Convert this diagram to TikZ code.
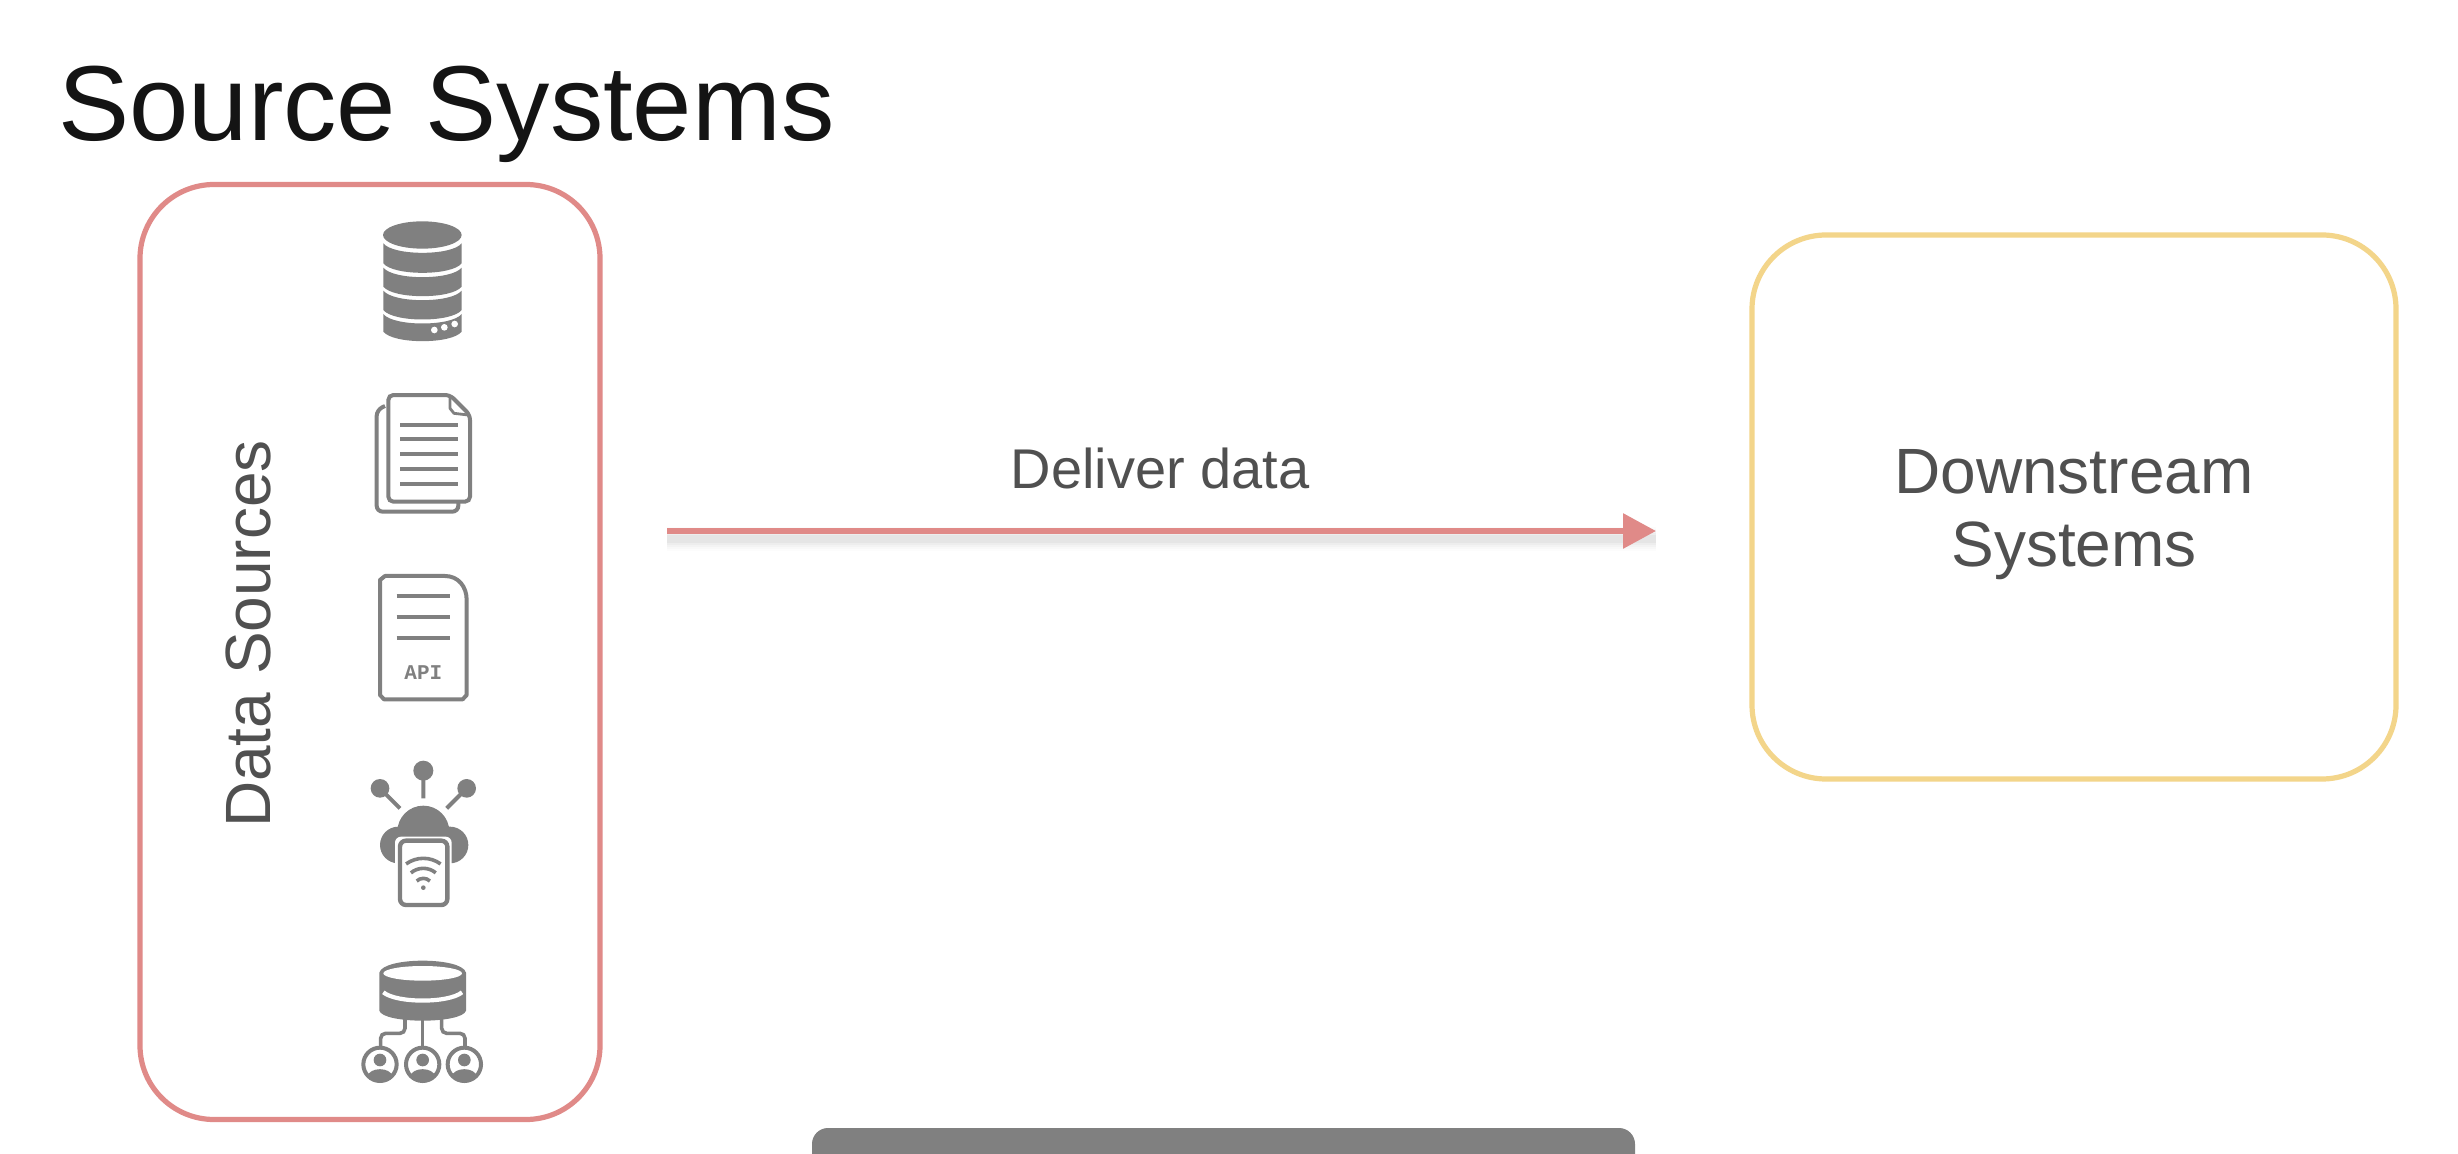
\documentclass[tikz,border=0pt]{standalone}
\usepackage{fontspec}
\setmainfont{Liberation Sans}
\newfontfamily\apifont{Liberation Mono}
\usetikzlibrary{arrows.meta}
\definecolor{iconG}{HTML}{808080}
\definecolor{redB}{HTML}{E08A88}
\definecolor{yelB}{HTML}{F3D58A}
\definecolor{txtG}{HTML}{505050}
\tikzset{
  panel/.style={draw=#1,line width=2.6pt,rounded corners=37pt,fill=none,minimum width=0pt,inner sep=0pt},
  label/.style={text=txtG,inner sep=0pt},
  icon/.style={x=0.16667pt,y=-0.16667pt},
  iconline/.style={draw=iconG,line width=2pt},
  flow/.style={draw=redB,line width=3pt,-{Triangle[length=16.5pt,width=17pt,fill=redB]}},
}
\begin{document}
\begin{tikzpicture}[x=0.5pt,y=-0.5pt]
\useasboundingbox (0,0) rectangle (2458,1154);
\fill[white] (0,0) rectangle (2458,1154);
% title
\node[anchor=base west,inner sep=0pt,text=black!92] (title) at (58,141) {\fontsize{53.3}{60}\selectfont Source Systems};
% panels
\node[panel=redB,minimum width=230pt,minimum height=467.5pt] (src) at (370,652) {};
\node[panel=yelB,minimum width=322pt,minimum height=272pt] (dst) at (2074,507) {};
\node[label,rotate=90] (dsl) at (248,634) {\fontsize{32}{36}\selectfont Data Sources};
\node[label,anchor=base] (dsy1) at (2074,494) {\fontsize{32}{36}\selectfont Downstream};
\node[label,anchor=base] (dsy2) at (2074,567) {\fontsize{32}{36}\selectfont Systems};
\node[label,anchor=base] (dl) at (1160,489) {\fontsize{28}{32}\selectfont Deliver data};
% arrow
\coordinate (a0) at (667,531);
\coordinate (a1) at (1656,531);
\foreach \w/\o in {12/.012,10/.015,8/.02,6/.025,4/.03}{
  \draw[black,opacity=\o,line width=\w pt] ([yshift=-4pt]a0) -- ([yshift=-4pt]a1);
}
\draw[flow] (a0) -- (a1);
% database icon
\begin{scope}[icon,xshift=165pt,yshift=-100pt]
\fill[iconG] (277,105) ellipse (118 and 41);
\foreach \t/\b in {130/190,203/260,272/330,342/395}{
  \fill[iconG] (160,\t) .. controls (190,\t+38) and (365,\t+38) .. (395,\t) -- (395,\b)
     .. controls (365,\b+38) and (190,\b+38) .. (160,\b) -- cycle;
}
\fill[white] (313,390) circle (10) (343,382) circle (10) (374,372) circle (10);
% documents
\draw[iconline,rounded corners=3pt] (165,618) -- (140,630) -- (140,935) -- (385,935) -- (385,908);
\draw[iconline,rounded corners=2.5pt,fill=white] (175,585) -- (360,585) -- (420,645) -- (420,905) -- (175,905) -- cycle;
\draw[iconline,line width=1.4pt,line join=round] (360,590) -- (360,625) -- (372,640) -- (415,645);
\foreach \y in {675,718,763,808,853}{
  \draw[iconG,line width=2pt] (210,\y) -- (385,\y);
}
\end{scope}
% API icon
\begin{scope}[icon,xshift=165pt,yshift=-275pt]
\draw[iconline,line join=round] (165,78) -- (345,78) .. controls (385,78) and (410,110) .. (410,150) -- (410,435) -- (398,448) -- (162,448) -- (150,435) -- (150,90) -- cycle;
\foreach \y in {137,200,264}{
  \draw[iconG,line width=2pt] (200,\y) -- (360,\y);
}
\node[text=iconG,inner sep=0pt] (apil) at (280,368) {\apifont\bfseries\fontsize{10.5}{12}\selectfont API};
\end{scope}
% cloud icon
\begin{scope}[icon,xshift=165pt,yshift=-375pt]
\fill[iconG] (280,62) circle (30) (150,115) circle (28) (410,115) circle (28);
\draw[iconG,line width=2pt] (280,62) -- (280,145) (150,115) -- (210,175) (410,115) -- (350,175);
\fill[iconG] (280,245) circle (78) (205,285) circle (55) (360,285) circle (55) (205,270) rectangle (360,340);
\fill[white,rounded corners=3pt] (195,260) rectangle (365,480);
\draw[iconline,line width=2.2pt,rounded corners=3pt,fill=white] (210,272) rectangle (352,465);
\draw[iconG,line width=1.8pt] (280,413) ++(-54:88) arc (-54:-126:88);
\draw[iconG,line width=1.8pt] (280,413) ++(-50:58) arc (-50:-130:58);
\draw[iconG,line width=1.8pt] (280,413) ++(-45:28) arc (-45:-135:28);
\fill[iconG] (280,413) circle (7);
\end{scope}
% shared database icon
\begin{scope}[icon,xshift=165pt,yshift=-470pt]
\fill[iconG] (148,98) .. controls (160,50) and (396,50) .. (408,98) -- (408,212)
   .. controls (396,252) and (160,252) .. (148,212) -- cycle;
\fill[white] (278,100) ellipse (118 and 22);
\draw[white,line width=2.1pt] (160,157) .. controls (200,190) and (356,190) .. (396,157);
\draw[iconG,line width=1.8pt,rounded corners=2.5pt] (225,235) -- (225,280) -- (152,280) -- (152,325);
\draw[iconG,line width=1.8pt] (278,235) -- (278,325);
\draw[iconG,line width=1.8pt,rounded corners=2.5pt] (335,235) -- (335,280) -- (405,280) -- (405,325);
\foreach \c in {150,278,403}{
  \draw[iconG,line width=2pt,fill=white] (\c,373) circle (50);
  \fill[iconG] (\c,360) circle (19);
  \fill[iconG] (\c-38,410) .. controls (\c-32,380) and (\c+32,380) .. (\c+38,410) -- (\c+28,420) -- (\c-28,420) -- cycle;
}
\end{scope}
% grey bar
\fill[iconG,rounded corners=8pt] (812,1128) -- (1635,1128) -- (1635,1170) -- (812,1170) -- cycle;
\end{tikzpicture}
\end{document}
